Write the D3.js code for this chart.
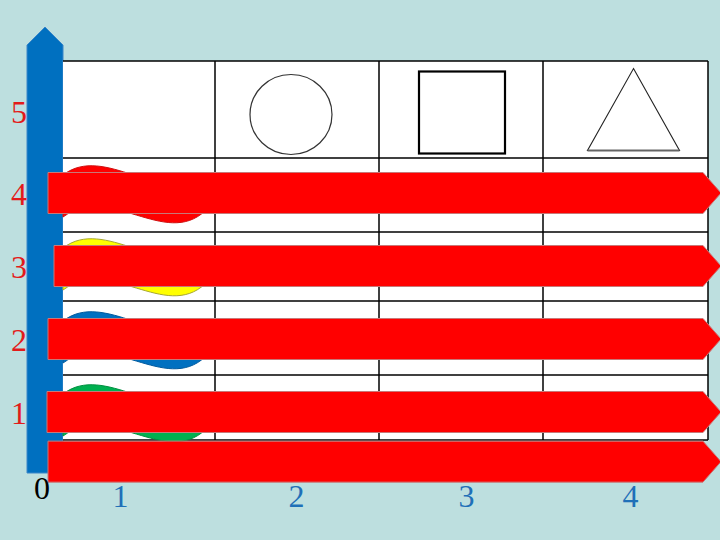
<!DOCTYPE html>
<html>
<head>
    <style>
        body { margin: 0; background: #bddfdf; }
        svg { display: block; }
        .tick text { font-family: "Liberation Serif", "DejaVu Serif", serif; font-size: 32px; }
    </style>
    <script src="https://d3js.org/d3.v7.min.js"></script>
</head>
<body>
    <svg width="720" height="540"></svg>
    <script>
        // chart values
        let yTicks = [1, 2, 3, 4, 5];
        let xTicks = [1, 2, 3, 4];
        let headerShapes = ["", "circle", "square", "triangle"];
        let waveColors = ["#ff0000", "#ffff00", "#0070c0", "#00b050"];
        let waveEdges = ["#d01010", "#a8a830", "#005a9e", "#009040"];
        let waveRows = [4, 3, 2, 1];
        let arrowRows = [4, 3, 2, 1, 0.32];
        let arrowStart = [0.4, 0.7, 0.4, 0.35, 0.4];

        let svg = d3.select("svg");

        // scales
        let yScale = d3.scaleLinear().domain([0, 4, 5]).range([485, 193, 111]);
        let xScale = d3.scaleLinear().domain([0, 1, 2, 3, 4]).range([42, 120, 296, 466, 630]);
        let colEdge = d3.scaleLinear().domain([0, 1, 2, 3, 4]).range([63, 215, 379, 543, 708]);
        let rowEdge = d3.scaleLinear().domain([0, 1, 2, 3, 4, 5]).range([61, 158, 232, 301, 375, 440]);
        let arrowX = d3.scaleLinear().domain([0, 1]).range([40, 60]);

        // blue vertical arrow (behind everything)
        let ax0 = 27, ax1 = 63;
        svg.append("path")
            .attr("d", "M" + ax0 + "," + 45 + " L" + (ax0 + ax1) / 2 + "," + 27 + " L" + ax1 + "," + 45 +
                " L" + ax1 + "," + 473 + " L" + ax0 + "," + 473 + " Z")
            .style("fill", "#0070c0")
            .style("stroke", "#3a86c8")
            .style("stroke-width", 1);

        // table background
        let table = svg.append("g").attr("class", "table");
        table.append("rect")
            .attr("x", colEdge(0))
            .attr("y", rowEdge(0))
            .attr("width", colEdge(4) - colEdge(0))
            .attr("height", rowEdge(5) - rowEdge(0))
            .style("fill", "#fff");

        table.selectAll("line.row")
            .data(d3.range(0, 6))
            .join("line")
            .attr("class", "row")
            .attr("x1", colEdge(0)).attr("x2", colEdge(4))
            .attr("y1", d => rowEdge(d)).attr("y2", d => rowEdge(d))
            .style("stroke", "#000").style("stroke-width", 1.5);

        table.selectAll("line.col")
            .data(d3.range(1, 5))
            .join("line")
            .attr("class", "col")
            .attr("x1", d => colEdge(d)).attr("x2", d => colEdge(d))
            .attr("y1", rowEdge(0)).attr("y2", rowEdge(5))
            .style("stroke", "#000").style("stroke-width", 1.5);

        // header shapes
        let hy = (rowEdge(0) + rowEdge(1)) / 2 + 2;
        headerShapes.forEach(function (s, i) {
            let cx = (colEdge(i) + colEdge(i + 1)) / 2;
            if (s === "circle") {
                table.append("ellipse")
                    .attr("cx", cx - 6).attr("cy", hy + 3)
                    .attr("rx", 41).attr("ry", 40)
                    .style("fill", "none").style("stroke", "#333").style("stroke-width", 1.2);
            } else if (s === "square") {
                table.append("rect")
                    .attr("x", cx - 42).attr("y", hy - 40)
                    .attr("width", 86).attr("height", 82)
                    .style("fill", "none").style("stroke", "#000").style("stroke-width", 2.2);
            } else if (s === "triangle") {
                table.append("path")
                    .attr("d", "M" + (cx + 8) + "," + (hy - 43) + " L" + (cx + 54) + "," + (hy + 39) +
                        " L" + (cx - 38) + "," + (hy + 39) + " Z")
                    .style("fill", "none").style("stroke", "#222").style("stroke-width", 1.1);
                table.append("line")
                    .attr("x1", cx - 38).attr("x2", cx + 54)
                    .attr("y1", hy + 39).attr("y2", hy + 39)
                    .style("stroke", "#666").style("stroke-width", 1.8);
            }
        });

        // waves in the first column
        let wx0 = colEdge(0), wx1 = 205;
        function wavePath(c) {
            return "M" + wx0 + "," + (c - 18) +
                " C" + (wx0 + 42) + "," + (c - 50) + " " + (wx0 + 97) + "," + (c + 14) + " " + wx1 + "," + (c - 20) +
                " L" + wx1 + "," + (c + 18) +
                " C" + (wx1 - 40) + "," + (c + 55) + " " + (wx1 - 95) + "," + (c - 10) + " " + wx0 + "," + (c + 24) + " Z";
        }
        svg.append("g").selectAll("path")
            .data(waveRows)
            .join("path")
            .attr("d", d => wavePath(yScale(d)))
            .style("fill", (d, i) => waveColors[i])
            .style("stroke", (d, i) => waveEdges[i])
            .style("stroke-width", 1);

        // red horizontal arrows
        let half = 20.5, tipX = 721, bodyEnd = 703;
        svg.append("g").selectAll("path")
            .data(arrowRows)
            .join("path")
            .attr("d", function (d, i) {
                let c = yScale(d), x0 = arrowX(arrowStart[i]);
                return "M" + x0 + "," + (c - half) + " L" + bodyEnd + "," + (c - half) +
                    " L" + tipX + "," + c + " L" + bodyEnd + "," + (c + half) +
                    " L" + x0 + "," + (c + half) + " Z";
            })
            .style("fill", "#ff0000")
            .style("stroke", "#c87878")
            .style("stroke-width", 1);

        // y tick labels
        let yAxis = d3.axisLeft(yScale).tickValues(yTicks).tickFormat(d3.format("d")).tickSize(0).tickPadding(0);
        let gy = svg.append("g").attr("transform", "translate(35,11)").call(yAxis);
        gy.select(".domain").remove();
        gy.selectAll("text").style("fill", "#e31b1b").attr("text-anchor", "middle").attr("x", -16).attr("dy", null);

        // x tick labels
        let xAxis = d3.axisBottom(xScale).tickValues(xTicks).tickFormat(d3.format("d")).tickSize(0).tickPadding(0);
        let gx = svg.append("g").attr("transform", "translate(0,507)").call(xAxis);
        gx.select(".domain").remove();
        gx.selectAll("text").style("fill", "#1f70b8").attr("dy", null).attr("y", 0);

        // origin label
        svg.append("text")
            .attr("x", xScale(0)).attr("y", 499)
            .attr("text-anchor", "middle")
            .style("font-family", "Liberation Serif, serif")
            .style("font-size", "32px")
            .style("fill", "#000")
            .text("0");
    </script>
</body>
</html>
